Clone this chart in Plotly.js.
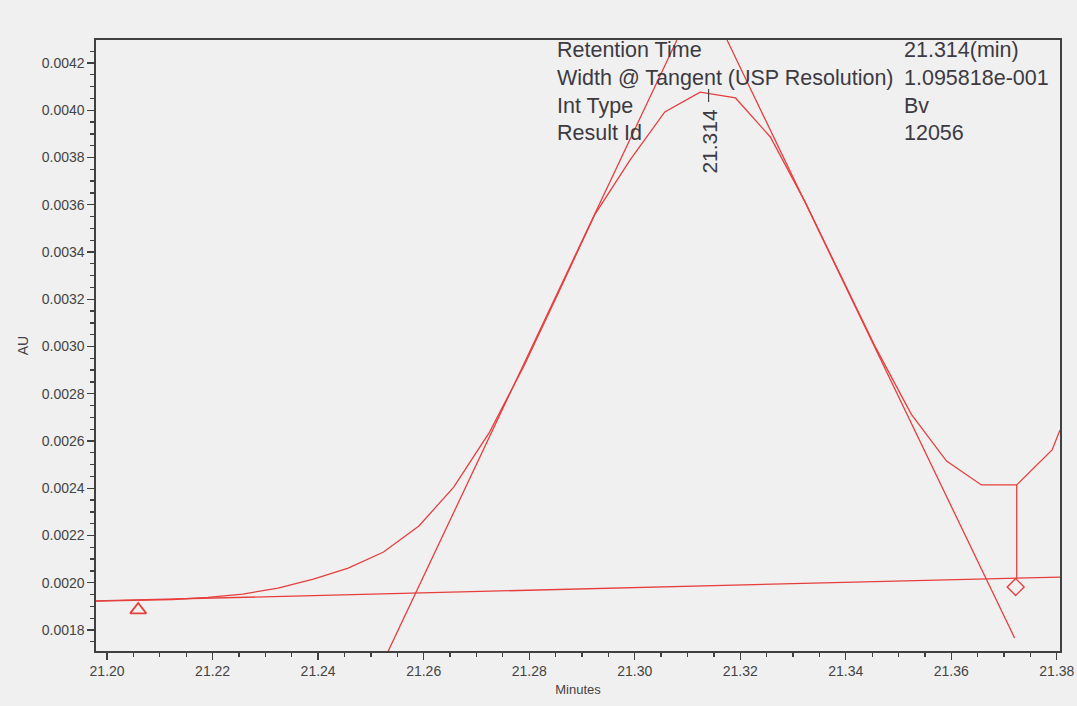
<!DOCTYPE html>
<html>
<head>
<meta charset="utf-8">
<script src="https://cdn.plot.ly/plotly-3.0.1.min.js"></script>
<style>
  html, body { margin: 0; padding: 0; background: #f0f0f0; }
  #chart { width: 1077px; height: 706px; }
</style>
</head>
<body>
<div id="chart"></div>
<script>
// ---- Data ----
const timeMin = [21.1979, 21.2057, 21.2124, 21.2191, 21.2257, 21.2324, 21.2391, 21.2457,
  21.2524, 21.2591, 21.2657, 21.2724, 21.2791, 21.2857, 21.2924, 21.2991, 21.3057,
  21.3124, 21.3191, 21.3257, 21.3324, 21.3391, 21.3457, 21.3524, 21.3591, 21.3657,
  21.3724, 21.3791, 21.3806];
const signalAU = [0.001922, 0.001925, 0.001929, 0.001938, 0.001952, 0.001977, 0.002015, 0.002062,
  0.002130, 0.002240, 0.002405, 0.002634, 0.002922, 0.003235, 0.003557, 0.003789, 0.003993,
  0.004077, 0.004052, 0.003887, 0.003607, 0.003298, 0.002994, 0.002714, 0.002515, 0.002414,
  0.002414, 0.002562, 0.002647];

const baselineTime = [21.1979, 21.3806];
const baselineAU = [0.001923, 0.002024];

const leftTangentTime = [21.2532, 21.3080];
const leftTangentAU = [0.001707, 0.004297];
const rightTangentTime = [21.3175, 21.3720];
const rightTangentAU = [0.004297, 0.001766];

const dropTime = [21.3724, 21.3724];
const dropAU = [0.002414, 0.002020];

const startMarkTime = [21.2059];
const startMarkAU = [0.001885];
const endMarkTime = [21.3722];
const endMarkAU = [0.001982];

const apexTime = 21.314;
const apexAU = 0.00409;
const apexLabel = "21.314";

const infoLabels = ["Retention Time", "Width @ Tangent (USP Resolution)", "Int Type", "Result Id"];
const infoValues = ["21.314(min)", "1.095818e-001", "Bv", "12056"];

const xTickVals = [21.20, 21.22, 21.24, 21.26, 21.28, 21.30, 21.32, 21.34, 21.36, 21.38];
const xTickText = ["21.20", "21.22", "21.24", "21.26", "21.28", "21.30", "21.32", "21.34", "21.36", "21.38"];
const yTickVals = [0.0018, 0.0020, 0.0022, 0.0024, 0.0026, 0.0028, 0.0030, 0.0032, 0.0034, 0.0036, 0.0038, 0.0040, 0.0042];
const yTickText = ["0.0018", "0.0020", "0.0022", "0.0024", "0.0026", "0.0028", "0.0030", "0.0032", "0.0034", "0.0036", "0.0038", "0.0040", "0.0042"];

// ---- Styling ----
const RED = "rgb(230,62,62)";
const FONT = "Liberation Sans, Arial, sans-serif";
const TXT = "#3d3a42";

const lineStyle = { color: RED, width: 1.3 };

const traces = [
  { x: baselineTime, y: baselineAU, mode: "lines", line: lineStyle, hoverinfo: "skip" },
  { x: leftTangentTime, y: leftTangentAU, mode: "lines", line: lineStyle, hoverinfo: "skip" },
  { x: rightTangentTime, y: rightTangentAU, mode: "lines", line: lineStyle, hoverinfo: "skip" },
  { x: dropTime, y: dropAU, mode: "lines", line: lineStyle, hoverinfo: "skip" },
  { x: timeMin, y: signalAU, mode: "lines", line: lineStyle },
  { x: startMarkTime, y: startMarkAU, mode: "markers",
    marker: { symbol: "triangle-up-open", size: 14, color: RED, line: { width: 1.8, color: RED } } },
  { x: endMarkTime, y: endMarkAU, mode: "markers",
    marker: { symbol: "diamond-open", size: 13, color: RED, line: { width: 1.4, color: RED } } }
];

// info block positions (paper coords in the plot area)
const infoRows = [0.9836, 0.938, 0.892, 0.848];
const annotations = [];
infoLabels.forEach((t, i) => {
  annotations.push({ xref: "paper", yref: "paper", x: 0.476, y: infoRows[i], text: t,
    showarrow: false, xanchor: "left", yanchor: "middle",
    font: { family: FONT, size: 21.5, color: TXT } });
});
infoValues.forEach((t, i) => {
  annotations.push({ xref: "paper", yref: "paper", x: 0.836, y: infoRows[i], text: t,
    showarrow: false, xanchor: "left", yanchor: "middle",
    font: { family: FONT, size: 21.5, color: TXT } });
});
annotations.push({
  x: apexTime, y: apexAU, xref: "x", yref: "y", text: apexLabel, textangle: -90,
  showarrow: true, arrowhead: 0, arrowwidth: 1.2, arrowcolor: "#444", ax: 0, ay: 52,
  standoff: 0, startstandoff: 5,
  font: { family: FONT, size: 21, color: TXT }
});

const axisCommon = {
  showgrid: false, zeroline: false, showline: true, mirror: true,
  linecolor: "#404040", linewidth: 1.6,
  ticks: "outside", ticklen: 7, tickwidth: 1.3, tickcolor: "#404040",
  tickfont: { family: FONT, size: 14, color: "#444" },
  tickmode: "array"
};

const layout = {
  width: 1077, height: 706,
  paper_bgcolor: "#f0f0f0", plot_bgcolor: "#f0f0f0",
  margin: { l: 96, r: 17, t: 40, b: 55 },
  showlegend: false,
  xaxis: Object.assign({}, axisCommon, {
    range: [21.1979, 21.3806],
    tickvals: xTickVals, ticktext: xTickText,
    minor: { dtick: 0.005, tick0: 21.2, ticks: "outside", ticklen: 4, tickwidth: 1.3, tickcolor: "#404040", showgrid: false },
    title: { text: "Minutes", standoff: 6, font: { family: FONT, size: 13, color: "#444" } }
  }),
  yaxis: Object.assign({}, axisCommon, {
    range: [0.0017111, 0.0042974],
    tickvals: yTickVals, ticktext: yTickText,
    minor: { dtick: 0.00005, tick0: 0.0018, ticks: "outside", ticklen: 4, tickwidth: 1.3, tickcolor: "#404040", showgrid: false },
    title: { text: "AU", standoff: 10, font: { family: FONT, size: 14, color: "#444" } }
  }),
  annotations: annotations
};

Plotly.newPlot("chart", traces, layout, { displayModeBar: false, staticPlot: true });
</script>
</body>
</html>
